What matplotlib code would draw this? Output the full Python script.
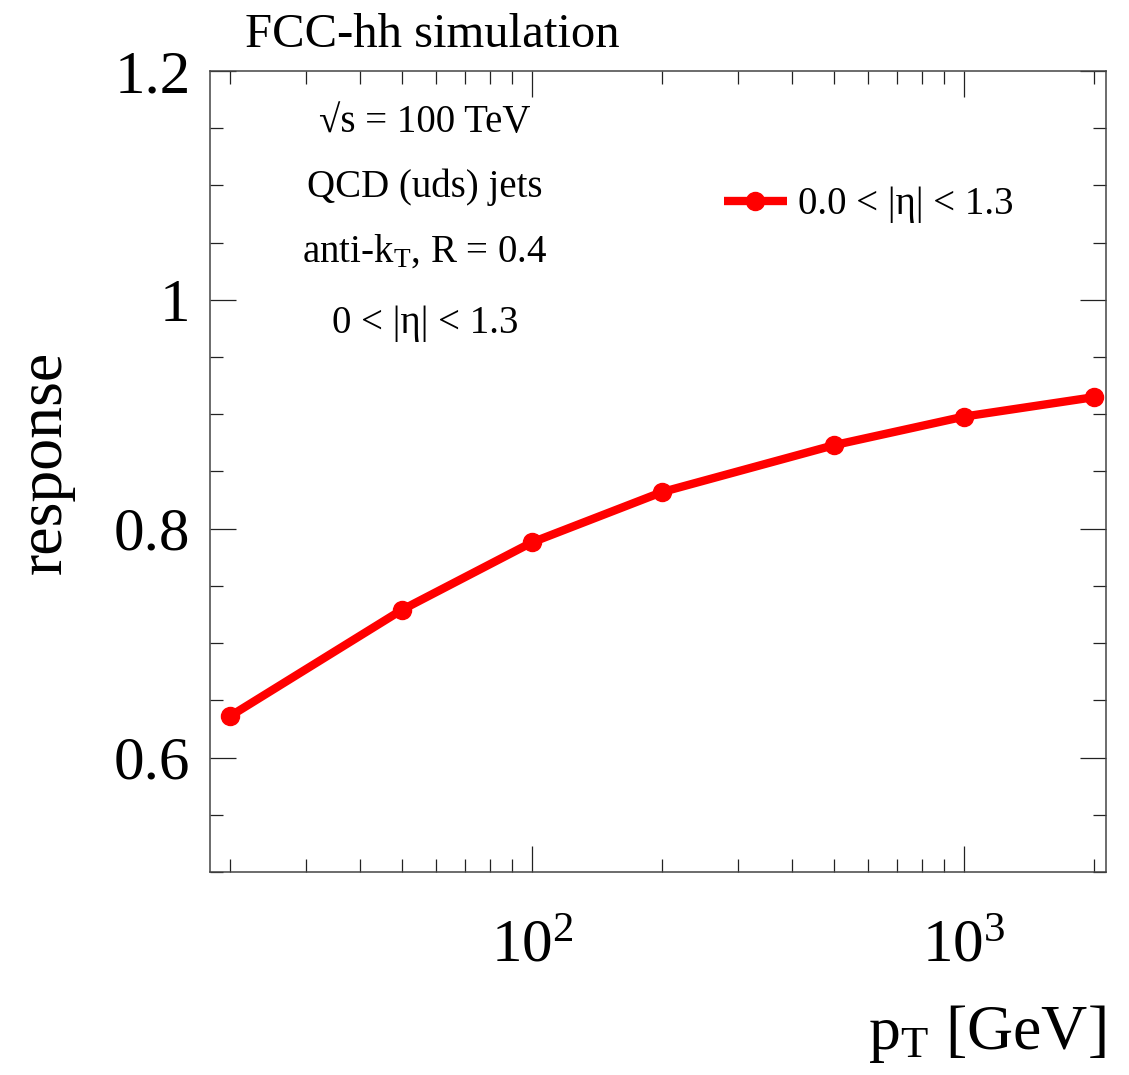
import math
import matplotlib
matplotlib.use("Agg")
import matplotlib.pyplot as plt
from matplotlib.ticker import LogLocator, MultipleLocator, FuncFormatter, NullFormatter

plt.rcParams["font.family"] = ["Liberation Serif", "DejaVu Serif"]
plt.rcParams["mathtext.fontset"] = "custom"
plt.rcParams["mathtext.rm"] = "Liberation Serif"
plt.rcParams["mathtext.it"] = "Liberation Serif"
plt.rcParams["mathtext.bf"] = "Liberation Serif:bold"

# jet pT points [GeV] and response
pt = [20, 50, 100, 200, 500, 1000, 2000]
response = [0.636, 0.729, 0.788, 0.832, 0.873, 0.898, 0.915]
series_label = "0.0 < |η| < 1.3"
info_lines = ["√s = 100 TeV", "QCD (uds) jets", r"anti-k$_{\mathrm{T}}$, R = 0.4", "0 < |η| < 1.3"]
info_y = [132, 197, 262, 333]

W, H = 1129, 1075
fig = plt.figure(figsize=(W / 100, H / 100), dpi=100)
ax = fig.add_axes([210 / W, 1 - 872 / H, 896 / W, 801 / H])

ax.plot(pt, response, color="#ff0000", lw=6.0, marker="o", ms=13,
        solid_capstyle="butt", label=series_label)

ax.set_xscale("log")
ax.set_xlim(18, 2130)
ax.set_ylim(0.5, 1.2)

ax.xaxis.set_major_locator(LogLocator(base=10))
ax.xaxis.set_minor_locator(LogLocator(base=10, subs=range(2, 10)))
ax.xaxis.set_minor_formatter(NullFormatter())
ax.xaxis.set_major_formatter(FuncFormatter(lambda v, p: r"$\mathrm{10^{%d}}$" % round(math.log10(v))))
ax.yaxis.set_major_locator(MultipleLocator(0.2))
ax.yaxis.set_minor_locator(MultipleLocator(0.05))
ax.yaxis.set_major_formatter(FuncFormatter(lambda v, p: "%g" % round(v, 2)))

ax.tick_params(which="both", direction="in", top=True, right=True, color="#222222",
               labelcolor="black", width=0.9)
ax.tick_params(which="major", length=18.5)
ax.tick_params(which="minor", length=9.3)
ax.tick_params(axis="x", which="major", labelsize=44, pad=34)
ax.tick_params(axis="y", which="major", labelsize=44, pad=14)
for s in ax.spines.values():
    s.set_color("#444444")
    s.set_linewidth(1.1)

ax.set_ylabel("response", fontsize=46)
ax.yaxis.set_label_coords(-0.151, 0.512)
ax.set_xlabel(r"$\mathrm{p_{T}}$ [GeV]", fontsize=46, ha="right")
ax.xaxis.set_label_coords(1.0, -0.163)

fig.text(245 / W, 1 - 47 / H, "FCC-hh simulation", fontsize=35, va="baseline", ha="left")

for t, y in zip(info_lines, info_y):
    fig.text(425 / W, 1 - y / H, t, fontsize=28, ha="center", va="baseline")

ax.legend(loc="center left", bbox_to_anchor=(0.574, 0.833), frameon=False, fontsize=28,
          handlelength=1.6, handletextpad=0.3, borderpad=0, borderaxespad=0)

fig.savefig("out.png", dpi=100)
